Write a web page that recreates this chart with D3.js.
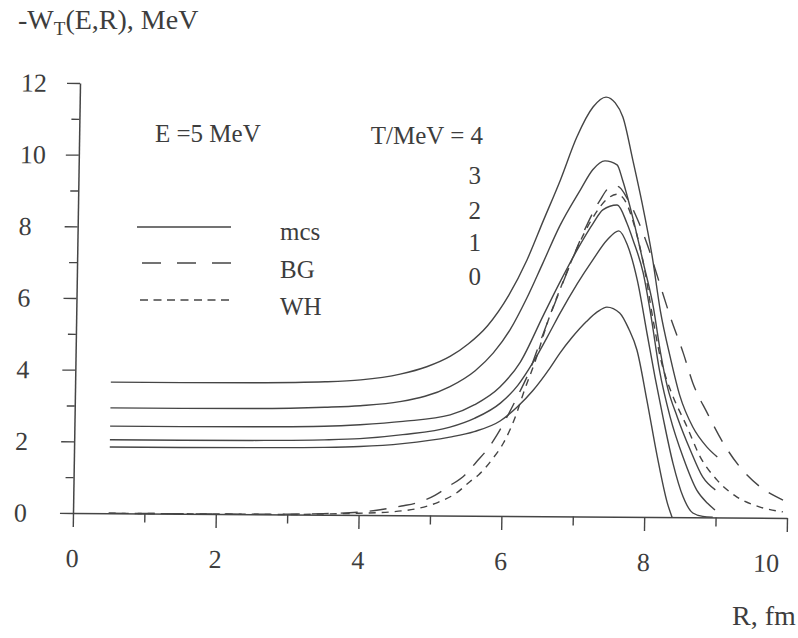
<!DOCTYPE html>
<html>
<head>
<meta charset="utf-8">
<script src="https://cdn.jsdelivr.net/npm/d3@7"></script>
<style>
  html, body { margin: 0; padding: 0; background: #ffffff; }
  svg { display: block; }
</style>
</head>
<body>
<svg id="chart" width="798" height="638"></svg>
<script>
// ---------------- data ----------------
const xTickValues = [0, 2, 4, 6, 8, 10];
const yTickValues = [0, 2, 4, 6, 8, 10, 12];
const tLabels = ["4", "3", "2", "1", "0"];
const legendNames = ["mcs", "BG", "WH"];

// mcs, T = 4 MeV
const R_T4 = [0.5, 1.5, 2.5, 3.5, 4.0, 4.55, 4.92, 5.25, 5.5, 5.76, 6.05, 6.30, 6.52, 6.75, 6.97, 7.19, 7.37, 7.50, 7.61, 7.76, 7.90, 8.05, 8.18, 8.33, 8.47, 8.66, 8.86, 9.01];
const W_T4 = [3.66, 3.66, 3.67, 3.71, 3.77, 3.94, 4.15, 4.45, 4.80, 5.30, 6.15, 7.15, 8.25, 9.39, 10.59, 11.43, 11.71, 11.55, 11.16, 9.95, 8.75, 7.30, 5.75, 4.45, 3.40, 2.52, 1.97, 1.69];
// mcs, T = 3 MeV
const R_T3 = [0.5, 1.5, 2.5, 3.5, 4.0, 4.55, 5.25, 5.6, 5.85, 6.08, 6.31, 6.52, 6.75, 7.03, 7.20, 7.37, 7.54, 7.62, 7.78, 7.93, 8.08, 8.19, 8.30, 8.44, 8.63, 8.81, 8.99];
const W_T3 = [2.94, 2.94, 2.95, 3.00, 3.05, 3.17, 3.60, 4.05, 4.55, 5.20, 6.10, 7.05, 8.10, 9.11, 9.68, 9.93, 9.82, 9.40, 8.29, 7.09, 5.86, 4.60, 3.60, 2.80, 1.88, 1.13, 0.77];
// mcs, T = 2 MeV
const R_T2 = [0.5, 1.5, 2.5, 3.5, 4.0, 4.6, 5.26, 5.6, 5.95, 6.23, 6.54, 6.77, 7.00, 7.22, 7.35, 7.55, 7.69, 7.78, 7.93, 8.05, 8.18, 8.34, 8.53, 8.73, 8.88, 8.99];
const W_T2 = [2.43, 2.43, 2.44, 2.47, 2.52, 2.62, 2.81, 3.10, 3.60, 4.30, 5.60, 6.55, 7.44, 8.19, 8.56, 8.70, 8.20, 7.73, 6.81, 5.60, 4.10, 2.80, 1.68, 0.76, 0.40, 0.21];
// mcs, T = 1 MeV
const R_T1 = [0.5, 1.5, 2.5, 3.5, 4.0, 4.6, 5.26, 5.6, 5.96, 6.2, 6.41, 6.64, 6.77, 7.01, 7.22, 7.42, 7.58, 7.70, 7.85, 8.00, 8.12, 8.24, 8.39, 8.54, 8.68, 8.82, 8.96];
const W_T1 = [2.05, 2.05, 2.06, 2.09, 2.13, 2.25, 2.47, 2.72, 3.15, 3.65, 4.30, 5.15, 5.65, 6.50, 7.16, 7.73, 7.98, 7.60, 6.60, 5.10, 3.90, 2.79, 1.51, 0.57, 0.12, 0.03, 0.01];
// mcs, T = 0 MeV
const R_T0 = [0.5, 1.5, 2.5, 3.5, 4.0, 4.6, 5.26, 5.6, 5.96, 6.2, 6.41, 6.65, 6.78, 6.95, 7.15, 7.30, 7.43, 7.61, 7.74, 7.86, 8.01, 8.17, 8.32, 8.39];
const W_T0 = [1.85, 1.85, 1.86, 1.88, 1.91, 2.00, 2.19, 2.35, 2.65, 3.05, 3.50, 4.15, 4.55, 5.00, 5.45, 5.72, 5.85, 5.69, 5.25, 4.66, 3.27, 1.68, 0.40, 0.00];
// BG
const R_BG = [0.5, 2.0, 3.0, 3.5, 4.0, 4.3, 4.6, 4.81, 5.07, 5.25, 5.48, 5.64, 5.80, 5.92, 6.07, 6.20, 6.35, 6.50, 6.70, 6.90, 7.10, 7.30, 7.45, 7.55, 7.70, 7.85, 8.00, 8.10, 8.32, 8.51, 8.65, 8.86, 9.09, 9.33, 9.62, 9.94];
const W_BG = [0.00, 0.00, 0.01, 0.03, 0.08, 0.15, 0.26, 0.35, 0.57, 0.81, 1.14, 1.51, 1.89, 2.26, 2.82, 3.35, 4.00, 4.85, 5.95, 7.00, 8.00, 8.80, 9.20, 9.22, 8.85, 8.25, 7.50, 6.90, 5.59, 4.58, 3.75, 2.91, 2.08, 1.41, 0.86, 0.50];
// WH
const R_WH = [0.5, 2.0, 3.0, 3.5, 4.0, 4.5, 4.97, 5.11, 5.37, 5.55, 5.67, 5.76, 5.85, 6.01, 6.19, 6.28, 6.45, 6.60, 6.80, 7.00, 7.20, 7.40, 7.55, 7.65, 7.80, 7.95, 8.08, 8.19, 8.28, 8.38, 8.58, 8.77, 9.01, 9.29, 9.62, 9.94];
const W_WH = [0.00, 0.00, 0.00, 0.02, 0.05, 0.10, 0.27, 0.37, 0.64, 0.95, 1.14, 1.33, 1.56, 2.03, 2.87, 3.43, 4.40, 5.40, 6.50, 7.50, 8.30, 8.85, 9.00, 8.85, 8.10, 6.90, 5.50, 4.45, 3.85, 3.35, 2.52, 1.69, 1.05, 0.58, 0.30, 0.17];

// ---------------- drawing ----------------
const INK = "#3d3d3d";
const LINE = "#454545";
const FONT = "'Liberation Serif', 'Times New Roman', Times, serif";

const svg = d3.select("#chart");
svg.append("rect").attr("width", 798).attr("height", 638).attr("fill", "#ffffff");

const x = d3.scaleLinear().domain([0, 10]).range([73, 787]);
const y = d3.scaleLinear().domain([0, 12]).range([513, 83]);

// the scanned original is slightly skewed; reproduce it on the plot frame
const g = svg.append("g")
  .attr("transform", "translate(73,513) matrix(1,0.007,-0.0163,1,0,0) translate(-73,-513)");

// x axis
const xAxis = d3.axisBottom(x).tickValues(d3.range(0, 11, 1)).tickSize(14).tickSizeOuter(0).tickFormat("");
const gx = g.append("g").attr("transform", `translate(0,${y(0)})`).call(xAxis);
gx.selectAll(".tick line").attr("y2", d => (d % 2 === 0 ? 14 : 9));

// y axis
const yAxis = d3.axisLeft(y).tickValues(d3.range(0, 13, 1)).tickSize(13).tickSizeOuter(0).tickFormat("");
const gy = g.append("g").attr("transform", `translate(${x(0)},0)`).call(yAxis);
gy.selectAll(".tick line").attr("x2", d => (d % 2 === 0 ? -13 : -8));

g.selectAll(".domain").attr("stroke", LINE).attr("stroke-width", 1.5);
g.selectAll(".tick line").attr("stroke", LINE).attr("stroke-width", 1.4);

// tick labels
g.append("g").selectAll("text").data(xTickValues).join("text")
  .attr("x", (d, i) => (i === xTickValues.length - 1 ? x(d) - 7 : x(d)))
  .attr("y", 567)
  .attr("text-anchor", (d, i) => (i === xTickValues.length - 1 ? "end" : "middle"))
  .attr("font-family", FONT).attr("font-size", 26).attr("fill", INK)
  .text(d => d);

g.append("g").selectAll("text").data(yTickValues).join("text")
  .attr("x", 14)
  .attr("y", d => y(d) + 9)
  .attr("text-anchor", "start")
  .attr("font-family", FONT).attr("font-size", 26).attr("fill", INK)
  .text(d => d);

// curves
const line = d3.line().x(d => x(d[0])).y(d => y(d[1])).curve(d3.curveMonotoneX);
const series = [
  { r: R_T4, w: W_T4, dash: null },
  { r: R_T3, w: W_T3, dash: null },
  { r: R_T2, w: W_T2, dash: null },
  { r: R_T1, w: W_T1, dash: null },
  { r: R_T0, w: W_T0, dash: null },
  { r: R_BG, w: W_BG, dash: "17,12" },
  { r: R_WH, w: W_WH, dash: "7,6" }
];
g.append("g").selectAll("path").data(series).join("path")
  .attr("d", s => line(d3.zip(s.r, s.w)))
  .attr("fill", "none")
  .attr("stroke", LINE)
  .attr("stroke-width", 1.4)
  .attr("stroke-dasharray", s => s.dash);

// axis titles
const title = svg.append("text").attr("x", 18).attr("y", 29)
  .attr("font-family", FONT).attr("font-size", 28).attr("fill", INK);
title.append("tspan").text("-W");
title.append("tspan").attr("font-size", 19).attr("dy", 6).text("T");
title.append("tspan").attr("dy", -6).text("(E,R), MeV");

svg.append("text").attr("x", 732).attr("y", 625)
  .attr("font-family", FONT).attr("font-size", 28).attr("fill", INK)
  .text("R, fm");

// annotations
svg.append("text").attr("x", 155).attr("y", 142)
  .attr("font-family", FONT).attr("font-size", 25).attr("fill", INK)
  .text("E =5 MeV");

const tY = [143.5, 183.5, 218.5, 250.5, 284.5];
svg.append("g").selectAll("text").data(tLabels).join("text")
  .attr("x", (d, i) => (i === 0 ? 483 : 481))
  .attr("y", (d, i) => tY[i])
  .attr("text-anchor", "end")
  .attr("font-family", FONT).attr("font-size", 25).attr("fill", INK)
  .text((d, i) => (i === 0 ? "T/MeV = " + d : d));

// legend
const legY = [227, 263, 300];
const legX1 = [137, 142, 140];
const legDash = [null, "19,16", "8,5.5"];
const leg = svg.append("g");
leg.selectAll("line").data(legendNames).join("line")
  .attr("x1", (d, i) => legX1[i]).attr("x2", 231)
  .attr("y1", (d, i) => legY[i]).attr("y2", (d, i) => legY[i])
  .attr("stroke", LINE).attr("stroke-width", 1.4)
  .attr("stroke-dasharray", (d, i) => legDash[i]);
leg.selectAll("text").data(legendNames).join("text")
  .attr("x", 280)
  .attr("y", (d, i) => [240, 278, 315][i])
  .attr("font-family", FONT).attr("font-size", 25).attr("fill", INK)
  .text(d => d);
</script>
</body>
</html>
